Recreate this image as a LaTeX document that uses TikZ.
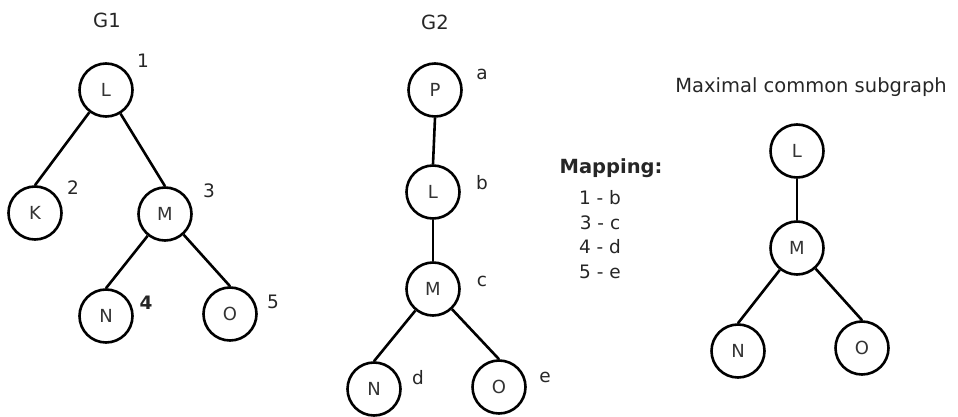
\documentclass[tikz,border=0pt]{standalone}
\usepackage{fontspec}
\setmainfont{DejaVu Sans}
\begin{document}
\begin{tikzpicture}[x=1pt,y=-1pt,
  vtx/.style={circle,draw=black,line width=2.6pt,minimum size=53pt,inner sep=0pt,font=\fontsize{18}{20}\selectfont,text=black!80},
  edge/.style={line width=2.6pt,draw=black},
  tag/.style={font=\fontsize{18.5}{20}\selectfont,text=black!85,inner sep=0pt},
  title/.style={font=\fontsize{19.5}{22}\selectfont,text=black!85,inner sep=0pt}]
\useasboundingbox (0,0) rectangle (958,417);

% G1
\node[title] (t1) at (107,20) {G1};
\node[vtx] (a1) at (106,90) {L};
\node[vtx] (a2) at (35,213) {K};
\node[vtx] (a3) at (165,214) {M};
\node[vtx] (a4) at (106,316) {N};
\node[vtx] (a5) at (230,314) {O};
\draw[edge] (a1) -- (a2.north);
\draw[edge] (a1) -- (a3.north);
\draw[edge] (a3) -- (a4.north);
\draw[edge] (a3) -- (a5.north);
\node[tag] (n1) at (143,61) {1};
\node[tag] (n2) at (73,188) {2};
\node[tag] (n3) at (209,191) {3};
\node[tag] (n4) at (146,303) {\textbf{4}};
\node[tag] (n5) at (273,302) {5};

% G2
\node[title] (t2) at (435,22) {G2};
\node[vtx] (b1) at (435,90) {P};
\node[vtx] (b2) at (433,192) {L};
\node[vtx] (b3) at (433,289) {M};
\node[vtx] (b4) at (374,389) {N};
\node[vtx] (b5) at (499,387) {O};
\draw[edge] (b1.south) -- (b2.north);
\draw[edge] (b2) -- (b3.north);
\draw[edge] (b3) -- (b4.north);
\draw[edge] (b3) -- (b5.north);
\node[tag] (la) at (482,74) {a};
\node[tag] (lb) at (482,183) {b};
\node[tag] (lc) at (482,281) {c};
\node[tag] (ld) at (418,378) {d};
\node[tag] (le) at (545,377) {e};

% Mapping
\node[title,font=\fontsize{19.5}{22}\selectfont\bfseries] (map) at (611,168) {Mapping:};
\node[tag] (m1) at (600,198) {1 - b};
\node[tag] (m2) at (600,223) {3 - c};
\node[tag] (m3) at (600,247) {4 - d};
\node[tag] (m4) at (600,272) {5 - e};

% Maximal common subgraph
\node[title] (t3) at (811,87) {Maximal common subgraph};
\node[vtx] (c1) at (797,151) {L};
\node[vtx] (c2) at (797,248) {M};
\node[vtx] (c3) at (738,351) {N};
\node[vtx] (c4) at (862,348) {O};
\draw[edge] (c1) -- (c2);
\draw[edge] (c2) -- (c3.north);
\draw[edge] (c2) -- (c4.north);
\end{tikzpicture}
\end{document}
